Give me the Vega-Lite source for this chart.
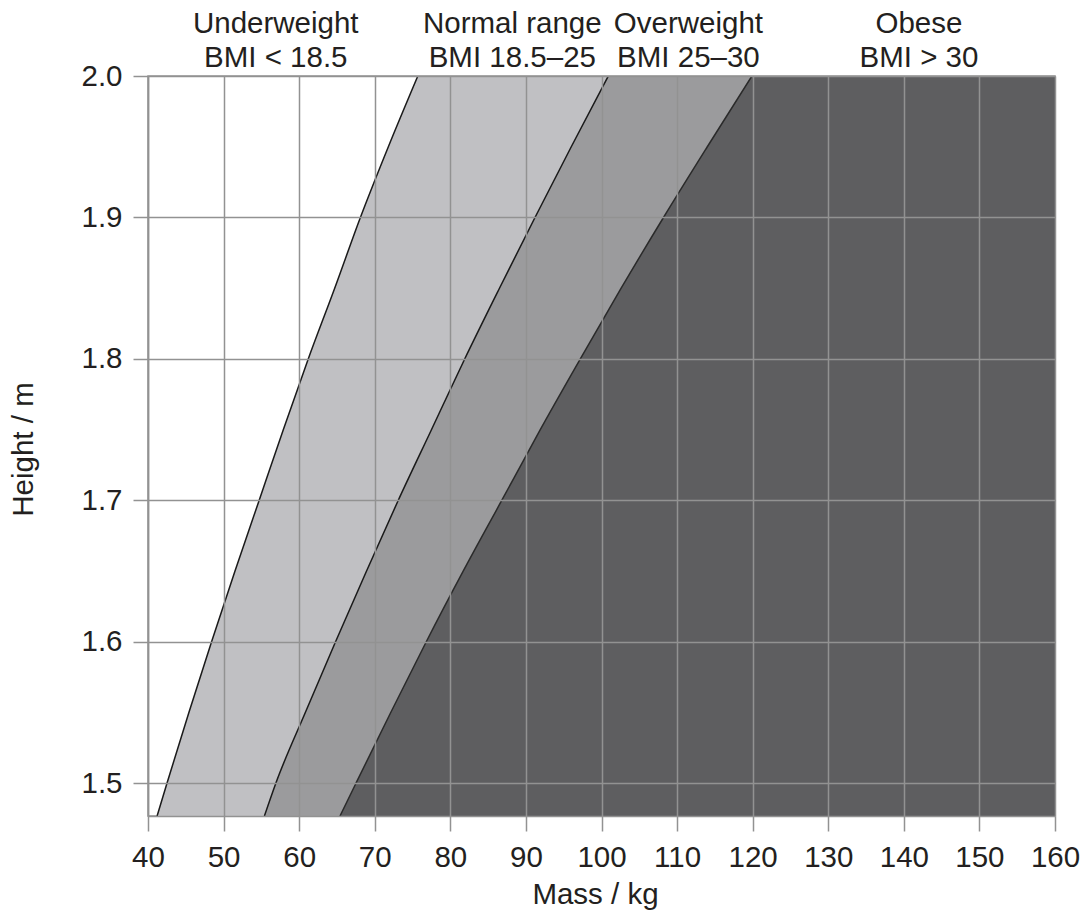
{
  "$schema": "https://vega.github.io/schema/vega-lite/v6.json",
  "width": 907,
  "height": 740,
  "autosize": {"type": "none"},
  "padding": {"left": 148, "top": 76, "right": 31, "bottom": 104},
  "background": "white",
  "config": {
    "font": "Liberation Sans",
    "view": {"stroke": "#929292", "strokeWidth": 1.5},
    "axis": {
      "domainColor": "#929292", "domainWidth": 1.5,
      "tickColor": "#929292", "tickWidth": 1.5, "tickSize": 15,
      "gridColor": "#929292", "gridWidth": 1.5, "gridOpacity": 1,
      "labelColor": "#231f20", "titleColor": "#231f20",
      "labelFont": "Liberation Sans", "titleFont": "Liberation Sans",
      "labelFontSize": 29.5, "titleFontSize": 29.5, "titleFontWeight": "normal",
      "labelFlush": false, "labelOverlap": false
    }
  },
  "datasets": {
    "bands": [
      {"h": 1.477, "m1": 41.2, "m2": 55.4, "m3": 65.4},
      {"h": 1.5, "m1": 42.5, "m2": 56.9, "m3": 67.5},
      {"h": 1.55, "m1": 45.4, "m2": 60.8, "m3": 72.1},
      {"h": 1.6, "m1": 48.4, "m2": 64.8, "m3": 76.8},
      {"h": 1.65, "m1": 51.5, "m2": 68.9, "m3": 81.7},
      {"h": 1.7, "m1": 54.7, "m2": 73.1, "m3": 86.8},
      {"h": 1.75, "m1": 57.9, "m2": 77.5, "m3": 91.9},
      {"h": 1.8, "m1": 61.2, "m2": 81.9, "m3": 97.2},
      {"h": 1.85, "m1": 64.7, "m2": 86.5, "m3": 102.6},
      {"h": 1.9, "m1": 68.1, "m2": 91.2, "m3": 108.2},
      {"h": 1.95, "m1": 71.8, "m2": 96.0, "m3": 114.0},
      {"h": 2.0, "m1": 75.7, "m2": 100.9, "m3": 119.9}
    ],
    "labels": [
      {"x": 56.9, "line1": "Underweight", "line2": "BMI < 18.5"},
      {"x": 88.2, "line1": "Normal range", "line2": "BMI 18.5–25"},
      {"x": 111.5, "line1": "Overweight", "line2": "BMI 25–30"},
      {"x": 142, "line1": "Obese", "line2": "BMI > 30"}
    ]
  },
  "layer": [
    {
      "data": {"name": "bands"},
      "mark": {"type": "area", "orient": "horizontal", "interpolate": "monotone", "fill": "#c0c0c3", "clip": true},
      "encoding": {
        "y": {
          "field": "h", "type": "quantitative",
          "scale": {"domain": [1.477, 2.0], "nice": false, "zero": false},
          "axis": {
            "title": "Height / m",
            "values": [1.5, 1.6, 1.7, 1.8, 1.9, 2.0],
            "format": ".1f",
            "labelPadding": 11,
            "zindex": 1,
            "titleAngle": 270,
            "titleAlign": "center",
            "titleBaseline": "alphabetic",
            "titleX": -116,
            "titleY": 373
          }
        },
        "x": {
          "field": "m1", "type": "quantitative",
          "scale": {"domain": [40, 160], "nice": false, "zero": false},
          "axis": {
            "title": "Mass / kg",
            "values": [40, 50, 60, 70, 80, 90, 100, 110, 120, 130, 140, 150, 160],
            "labelPadding": 12,
            "zindex": 1,
            "titleBaseline": "alphabetic",
            "titleX": 447,
            "titleY": 87
          }
        },
        "x2": {"field": "m2"}
      }
    },
    {
      "data": {"name": "bands"},
      "mark": {"type": "area", "orient": "horizontal", "interpolate": "monotone", "fill": "#9b9b9d", "clip": true},
      "encoding": {
        "y": {"field": "h", "type": "quantitative"},
        "x": {"field": "m2", "type": "quantitative"},
        "x2": {"field": "m3"}
      }
    },
    {
      "data": {"name": "bands"},
      "mark": {"type": "area", "orient": "horizontal", "interpolate": "monotone", "fill": "#5e5e60", "clip": true},
      "encoding": {
        "y": {"field": "h", "type": "quantitative"},
        "x": {"field": "m3", "type": "quantitative"},
        "x2": {"datum": 160}
      }
    },
    {
      "data": {"name": "bands"},
      "mark": {"type": "line", "interpolate": "monotone", "stroke": "#1a1a1a", "strokeWidth": 1.5, "clip": true},
      "encoding": {
        "y": {"field": "h", "type": "quantitative"},
        "x": {"field": "m1", "type": "quantitative"},
        "order": {"field": "h"}
      }
    },
    {
      "data": {"name": "bands"},
      "mark": {"type": "line", "interpolate": "monotone", "stroke": "#1a1a1a", "strokeWidth": 1.5, "clip": true},
      "encoding": {
        "y": {"field": "h", "type": "quantitative"},
        "x": {"field": "m2", "type": "quantitative"},
        "order": {"field": "h"}
      }
    },
    {
      "data": {"name": "bands"},
      "mark": {"type": "line", "interpolate": "monotone", "stroke": "#2a2a2a", "strokeWidth": 1.5, "clip": true},
      "encoding": {
        "y": {"field": "h", "type": "quantitative"},
        "x": {"field": "m3", "type": "quantitative"},
        "order": {"field": "h"}
      }
    },
    {
      "data": {"name": "labels"},
      "mark": {"type": "text", "fontSize": 29.5, "baseline": "alphabetic", "align": "center", "dy": -43, "color": "#231f20", "font": "Liberation Sans"},
      "encoding": {
        "x": {"field": "x", "type": "quantitative"},
        "y": {"datum": 2.0},
        "text": {"field": "line1"}
      }
    },
    {
      "data": {"name": "labels"},
      "mark": {"type": "text", "fontSize": 29.5, "baseline": "alphabetic", "align": "center", "dy": -9, "color": "#231f20", "font": "Liberation Sans"},
      "encoding": {
        "x": {"field": "x", "type": "quantitative"},
        "y": {"datum": 2.0},
        "text": {"field": "line2"}
      }
    }
  ]
}
